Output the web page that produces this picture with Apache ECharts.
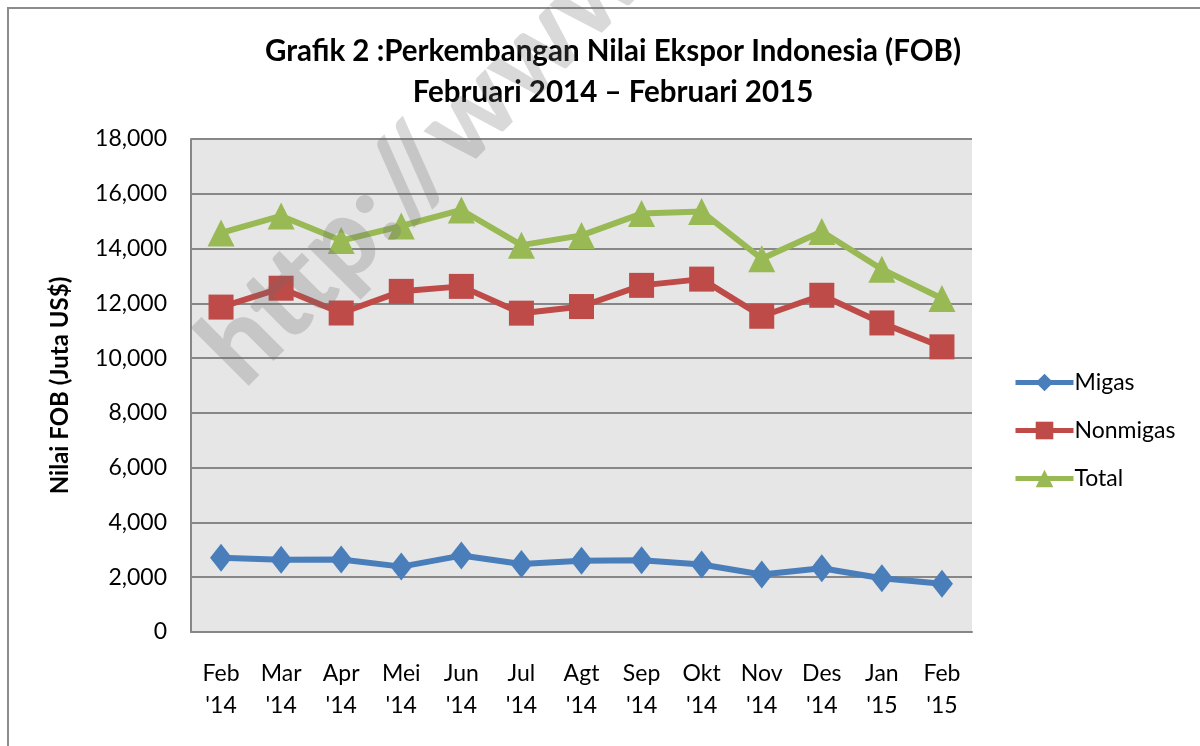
<!DOCTYPE html>
<html>
<head>
<meta charset="utf-8">
<script src="https://cdn.jsdelivr.net/npm/echarts@6/dist/echarts.min.js"></script>
<style>html,body{margin:0;padding:0;background:#fff}#c{width:1200px;height:746px}</style>
</head>
<body>
<div id="c"></div>
<script>
var categories = ["Feb\n'14","Mar\n'14","Apr\n'14","Mei\n'14","Jun\n'14","Jul\n'14","Agt\n'14","Sep\n'14","Okt\n'14","Nov\n'14","Des\n'14","Jan\n'15","Feb\n'15"];
var migas = [2707, 2640, 2645, 2387, 2790, 2484, 2598, 2620, 2466, 2100, 2328, 1962, 1763];
var nonmigas = [11863, 12552, 11647, 12437, 12619, 11641, 11883, 12656, 12884, 11528, 12294, 11284, 10411];
var total = [14570, 15192, 14292, 14824, 15409, 14125, 14481, 15276, 15350, 13628, 14622, 13246, 12174];
var titleText = "Grafik 2 :Perkembangan Nilai Ekspor Indonesia (FOB)\nFebruari 2014 \u2013 Februari 2015";
var yName = "Nilai FOB (Juta US$)";
var watermark = "http://www";

var FONT = "Lato";
var chart = echarts.init(document.getElementById('c'), null, {renderer: 'canvas'});
chart.setOption({
  backgroundColor: '#ffffff',
  animation: false,
  textStyle: {fontFamily: FONT},
  title: {
    text: titleText,
    left: 608, textAlign: 'center', top: 26,
    textStyle: {fontFamily: FONT, fontWeight: 'bold', fontSize: 29.5, lineHeight: 41, color: '#000'}
  },
  legend: {
    orient: 'vertical', left: 1013, top: 371, padding: 0,
    itemWidth: 58, itemHeight: 22, itemGap: 25,
    lineStyle: {width: 5},
    textStyle: {fontFamily: FONT, fontSize: 23, color: '#000', padding: [0,0,0,-4]},
    data: ['Migas', 'Nonmigas', 'Total']
  },
  grid: {
    left: 191, right: 228, top: 139, bottom: 114,
    show: true, backgroundColor: '#e6e6e6', borderWidth: 0
  },
  xAxis: {
    type: 'category', data: categories, boundaryGap: true,
    axisLine: {lineStyle: {color: '#878787', width: 2}},
    axisTick: {show: false},
    axisLabel: {fontFamily: FONT, fontSize: 23, color: '#000', lineHeight: 32, margin: 26, interval: 0}
  },
  yAxis: {
    type: 'value', min: 0, max: 18000, interval: 2000,
    name: yName, nameLocation: 'middle', nameRotate: 90, nameGap: 119,
    nameTextStyle: {fontFamily: FONT, fontWeight: 'bold', fontSize: 24, color: '#000'},
    axisLine: {show: true, lineStyle: {color: '#878787', width: 2}},
    axisTick: {show: false},
    axisLabel: {fontFamily: FONT, fontSize: 23, color: '#000', margin: 24,
      formatter: function (v) { return v.toLocaleString('en-US'); }},
    splitLine: {lineStyle: {color: '#878787', width: 2}}
  },
  graphic: [
    {type: 'rect', shape: {x: 8, y: 8, width: 1200, height: 760}, style: {fill: 'none', stroke: '#8c8c8c', lineWidth: 2}, z: 100},
    {type: 'text', x: 258, y: 404, rotation: 0.785, z: 100,
      style: {text: watermark, fontFamily: FONT, fontWeight: 900, fontSize: 110, fill: 'rgba(110,110,110,0.26)', textAlign: 'left', textVerticalAlign: 'bottom'}}
  ],
  series: [
    {name: 'Migas', type: 'line', data: migas, color: '#4a7ebb', symbol: 'diamond', symbolSize: [22, 28],
      lineStyle: {width: 6}, itemStyle: {color: '#4a7ebb'}},
    {name: 'Nonmigas', type: 'line', data: nonmigas, color: '#be4b48', symbol: 'rect', symbolSize: 25,
      lineStyle: {width: 6}, itemStyle: {color: '#be4b48'}},
    {name: 'Total', type: 'line', data: total, color: '#98b954', symbol: 'triangle', symbolSize: [27, 27],
      lineStyle: {width: 6}, itemStyle: {color: '#98b954'}}
  ]
});
</script>
</body>
</html>
